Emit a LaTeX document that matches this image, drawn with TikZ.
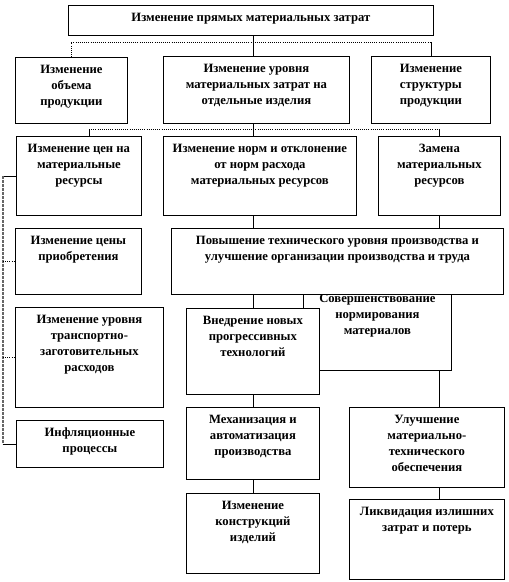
\documentclass[tikz,border=0pt]{standalone}
\usepackage{fontspec}
\setmainfont{Liberation Serif}
\usetikzlibrary{backgrounds}
% box text: width and height in px, text set at the top
\newcommand{\bt}[3]{\parbox[c][\dimexpr #2pt*3/4\relax][t]{\dimexpr #1pt*3/4\relax}{\centering\vspace*{3.5pt}\strut #3\par}}

\begin{document}
\begin{tikzpicture}[
        x=0.75pt, y=-0.75pt,
        box/.style={draw, fill=white, line width=0.6pt, inner sep=0pt, anchor=north west,
            font=\fontsize{9.5}{12}\selectfont\bfseries},
        conn/.style={line width=0.6pt},
        dotline/.style={line width=0.6pt, densely dotted},
        bar/.style={line width=2pt, densely dotted, black!60}
    ]
    \useasboundingbox (0,0) rectangle (508,582);

    % Top node
    \node[box] (top) at (68,5) {\bt{365}{30}{Изменение прямых материальных затрат}};

    % Second row
    \node[box] (obem) at (15,57) {\bt{112}{66}{Изменение\\объема\\продукции}};
    \node[box] (lvl) at (163,56) {\bt{186}{67}{Изменение уровня\\материальных затрат на\\отдельные изделия}};
    \node[box] (struct) at (371,56) {\bt{119}{67}{Изменение\\структуры\\продукции}};

    % Third row
    \node[box] (cena) at (16,136) {\bt{125}{79}{Изменение цен на\\материальные\\ресурсы}};
    \node[box] (normy) at (163,136) {\bt{193}{79}{Изменение норм и отклонение\\от норм расхода\\материальных ресурсов}};
    \node[box] (zamena) at (378,136) {\bt{122}{79}{Замена\\материальных\\ресурсов}};

    % Left column
    \node[box] (cenpr) at (15,228) {\bt{126}{66}{Изменение цены\\приобретения}};
    \node[box] (transp) at (15,307) {\bt{148}{100}{Изменение уровня\\транспортно-\\заготовительных\\расходов}};
    \node[box] (infl) at (16,420) {\bt{147}{47}{Инфляционные\\процессы}};

    % Middle and right columns (overlapping boxes in drawing order)
    \node[box] (sover) at (303,286) {\bt{148}{84}{Совершенствование\\нормирования\\материалов}};
    \node[box] (povysh) at (171,228) {\bt{332}{66}{Повышение технического  уровня производства и\\улучшение организации производства и труда}};
    \node[box] (vned) at (186,308) {\bt{133}{86}{Внедрение новых\\прогрессивных\\технологий}};
    \node[box] (mech) at (186,407) {\bt{133}{72}{Механизация и\\автоматизация\\производства}};
    \node[box] (konstr) at (186,493) {\bt{133}{80}{Изменение\\конструкций\\изделий}};
    \node[box] (ulucsh) at (349,407) {\bt{155}{80}{Улучшение\\материально-\\технического\\обеспечения}};
    \node[box] (likv) at (349,499) {\bt{155}{80}{Ликвидация излишних\\затрат и потерь}};

    \begin{scope}[on background layer]
    % Top to second row
    \coordinate (bus1) at (253,42);
    \draw[conn] (top.south -| vned) -- (lvl.north -| vned);
    \draw[dotline] (obem.north) |- (bus1 -| struct.north);
    \draw[conn] (bus1 -| struct.north) -- (struct.north);

    % Second to third row
    \coordinate (bus2) at (89,129);
    \draw[conn] (lvl.south -| vned) -- (normy.north -| vned);
    \draw[dotline] (bus2) -- (bus2 -| zamena.north);
    \draw[conn] (bus2) -- (bus2 |- cena.north);
    \draw[conn] (bus2 -| zamena.north) -- (zamena.north);

    % Left bracket
    \coordinate (lbar) at (3,0);
    \draw[conn] (cena.west) -- (cena.west -| lbar);
    \draw[bar] (cena.west -| lbar) -- (infl.west -| lbar);
    \draw[dotline] (cenpr.west -| lbar) -- (cenpr.west);
    \draw[dotline] (transp.west -| lbar) -- (transp.west);
    \draw[conn] (infl.west -| lbar) -- (infl.west);

    % Middle column
    \draw[conn] (normy.south -| vned) -- (povysh.north -| vned);
    \draw[conn] (povysh.south -| vned) -- (vned.north);
    \draw[conn] (vned.south) -- (mech.north);
    \draw[conn] (mech.south) -- (konstr.north);

    % Right column
    \draw[conn] (zamena.south) -- (zamena.south |- ulucsh.north);
    \draw[conn] (ulucsh.south -| zamena) -- (likv.north -| zamena);
    \end{scope}

\end{tikzpicture}
\end{document}
